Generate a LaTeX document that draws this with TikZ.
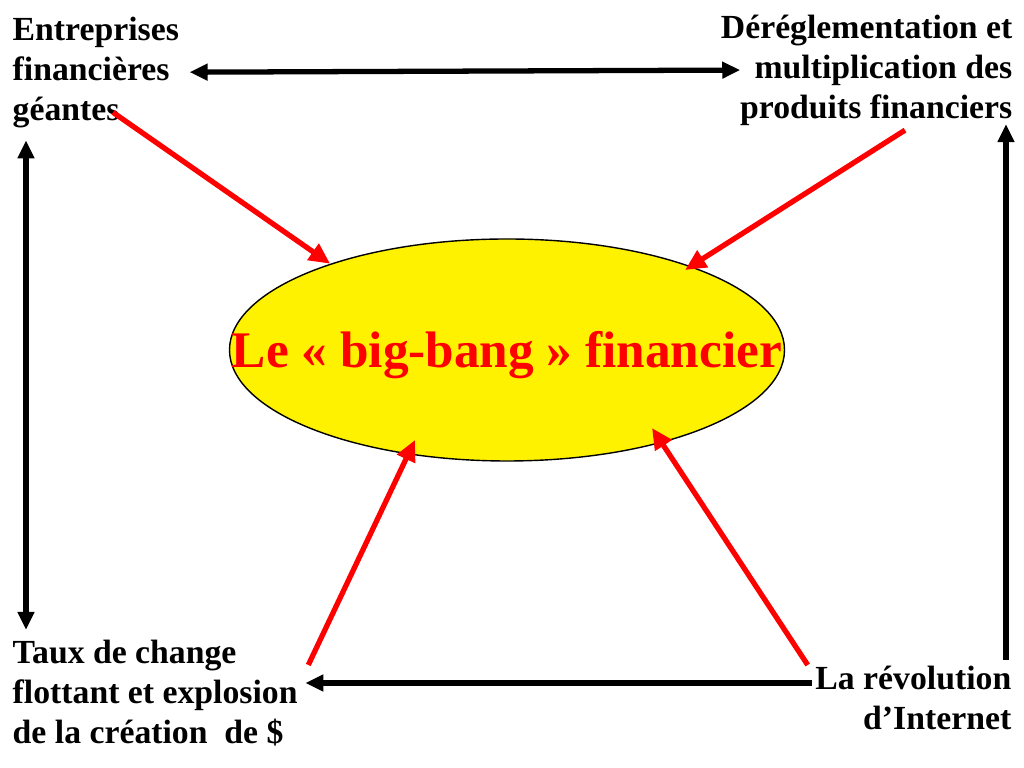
\documentclass[tikz,border=0pt]{standalone}
\usepackage{fontspec}
\setmainfont{Liberation Serif}
\usepackage{tikz}
\usetikzlibrary{shapes.geometric, arrows.meta, calc}
\tikzstyle{texte} = [inner sep=0pt, 
font=\fontsize{9.6}{11.4}\selectfont\bfseries]
\tikzstyle{bang} = [ellipse, draw=black, thin, fill=yellow, 
minimum width=5.55cm, minimum height=2.22cm, inner sep=0pt]
\tikzstyle{fleche} = [line width=1.5pt, -{Triangle[length=0.18cm, width=0.16cm]}]
\tikzstyle{double} = [line width=1.5pt, {Triangle[length=0.18cm, width=0.16cm]}-{Triangle[length=0.18cm, width=0.16cm]}]
\tikzstyle{rouge} = [line width=1.5pt, red, -{Triangle[length=0.21cm, width=0.19cm]}]

\begin{document}
\begin{tikzpicture}
        \useasboundingbox (0,0) rectangle (10.24,7.68);
        % Ellipse centrale
        \node[bang] (bang) at (5.07,4.18) {};
        \node[red, inner sep=0pt, font=\fontsize{14.6}{17}\selectfont\bfseries] (titre) at ([yshift=-0.05cm]bang.center) {Le «~big-bang~» financier};
        
        % Les quatre facteurs
        \node[texte, anchor=north west, align=left] (ent) at (0.12,7.52) {Entreprises\\financières\\géantes};
        \node[texte, anchor=north east, align=right] (dereg) at (10.13,7.54) {Déréglementation et\\multiplication des\\produits financiers};
        \node[texte, anchor=north west, align=left] (taux) at (0.12,1.29) {Taux de change\\flottant et explosion\\de la création~~de \$};
        \node[texte, anchor=north east, align=right] (rev) at (10.12,1.03) {La révolution\\d’Internet};
        
        % Flèches noires
        \draw[double] ($(ent.east)+(0.1,0)$) -- ($(dereg.west)+(0.2,0)$);
        \draw[double] ($(ent.south west)+(0.14,-0.12)$) -- ($(taux.north west)+(0.14,0.09)$);
        \draw[fleche] ($(rev.north east)+(-0.06,0.05)$) -- ($(dereg.south east)+(-0.07,0.02)$);
        \coordinate (bas) at ($(rev.north west)+(-0.03,-0.18)$);
        \draw[fleche] (bas) -- ([xshift=0.07cm]bas -| taux.east);
        
        % Flèches rouges vers le big-bang
        \draw[rouge] ($(ent.south west)+(1.01,0.16)$) -- (bang.154);
        \draw[rouge] ($(dereg.south east)+(-1.08,-0.04)$) -- ($(bang.center)+(1.78,0.8)$);
        \draw[rouge] ($(taux.north east)+(0.1,-0.26)$) -- ($(bang.center)+(-0.92,-0.9)$);
        \draw[rouge] ($(rev.north west)+(-0.07,0)$) -- ($(bang.center)+(1.45,-0.78)$);
        
\end{tikzpicture}
\end{document}
